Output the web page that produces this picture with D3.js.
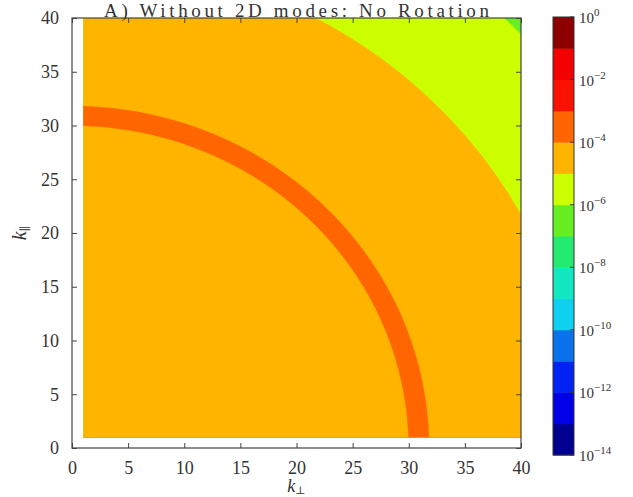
<!DOCTYPE html>
<html>
<head>
<meta charset="utf-8">
<script src="https://cdn.jsdelivr.net/npm/d3@7"></script>
<style>
  body { margin: 0; background: #fff; }
  svg { display: block; }
  text { font-family: "Liberation Serif", "DejaVu Serif", serif; fill: #333; }
</style>
</head>
<body>
<svg class="chart" width="633" height="497"></svg>
<script>
const title = 'A) Without 2D modes: No Rotation'

// grid of wavenumbers (both directions run 1..40)
const kPerp = d3.range(1, 41)
const kPar = d3.range(1, 41)

// radial profile: log10 E at shell radius k
const profileK = [0, 29, 31, 32.6, 44.5, 46.5, 54.5, 56.5, 60]
const profileLog10E = [-4.5, -4.5, -3.5, -4.5, -4.5, -5.5, -5.5, -6.5, -6.5]

// contour levels (log10) and the colour of each band
const levels = [-14, -13, -12, -11, -10, -9, -8, -7, -6, -5, -4, -3, -2, -1, 0]
const bandColors = ['#000090', '#0000e6', '#0022f2', '#0a72ea', '#10d0f2', '#12e8c0',
  '#24ea70', '#66ee22', '#ccff00', '#ffb400', '#ff6600', '#fa1200', '#f50000', '#8e0000']

const axisTicks = [0, 5, 10, 15, 20, 25, 30, 35, 40]
const colorbarTicks = [0, -2, -4, -6, -8, -10, -12, -14]

const svg = d3.select('.chart')

const x = d3.scaleLinear().domain([0, 40]).range([72, 521])
const y = d3.scaleLinear().domain([0, 40]).range([448, 18])
const cb = d3.scaleLinear().domain([-14, 0]).range([455, 17])

// build grid values, row 0 = smallest k_par
const profile = d3.scaleLinear().domain(profileK).range(profileLog10E).clamp(true)
const values = []
kPar.forEach(ky => {
  kPerp.forEach(kx => {
    values.push(profile(Math.hypot(kx, ky)))
  })
})

const contours = d3.contours()
  .size([kPerp.length, kPar.length])
  .thresholds(levels.slice(0, -1))(values)

const proj = d3.geoTransform({
  point: function (px, py) {
    this.stream.point(x(kPerp[0] + px - 0.5), y(kPar[0] + py - 0.5))
  }
})
const path = d3.geoPath(proj)

svg.append('clipPath')
  .attr('id', 'clip')
  .append('rect')
  .attr('x', x(kPerp[0]))
  .attr('y', y(kPar[kPar.length - 1]))
  .attr('width', x(kPerp[kPerp.length - 1]) - x(kPerp[0]))
  .attr('height', y(kPar[0]) - y(kPar[kPar.length - 1]))

svg.append('g')
  .attr('clip-path', 'url(#clip)')
  .selectAll('path')
  .data(contours)
  .enter()
  .append('path')
  .attr('d', path)
  .attr('fill', d => bandColors[levels.indexOf(d.value)])
  .attr('fill-rule', 'evenodd')
  .attr('stroke', d => bandColors[levels.indexOf(d.value)])
  .attr('stroke-width', 0.5)

// axes, ticks pointing inward on all four sides
const tickLen = 5
const axes = [
  {axis: d3.axisBottom(x), t: 'translate(0,' + y(0) + ')', labels: true, pad: 8},
  {axis: d3.axisTop(x), t: 'translate(0,' + y(40) + ')', labels: false, pad: 0},
  {axis: d3.axisLeft(y), t: 'translate(' + x(0) + ',0)', labels: true, pad: 8},
  {axis: d3.axisRight(y), t: 'translate(' + x(40) + ',0)', labels: false, pad: 0}
]
axes.forEach(a => {
  a.axis.tickValues(axisTicks).tickSize(-tickLen).tickPadding(tickLen + a.pad)
  if (!a.labels) a.axis.tickFormat('')
  const g = svg.append('g').attr('transform', a.t).call(a.axis)
  g.select('.domain').remove()
  g.selectAll('line').attr('stroke', '#444')
  g.selectAll('text')
    .style('font-family', '"Liberation Serif", serif')
    .style('font-size', '18px')
    .attr('fill', '#333')
})

svg.append('rect')
  .attr('x', x(0))
  .attr('y', y(40))
  .attr('width', x(40) - x(0))
  .attr('height', y(0) - y(40))
  .attr('fill', 'none')
  .attr('stroke', '#444')
  .attr('stroke-width', 1.2)

// title and axis labels
svg.append('text')
  .attr('x', (x(0) + x(40)) / 2)
  .attr('y', 17)
  .attr('text-anchor', 'middle')
  .attr('textLength', 385)
  .attr('lengthAdjust', 'spacing')
  .style('font-size', '19px')
  .text(title)

const xl = svg.append('text')
  .attr('x', (x(0) + x(40)) / 2)
  .attr('y', 492)
  .attr('text-anchor', 'middle')
  .style('font-size', '18px')
xl.append('tspan').style('font-style', 'italic').text('k')
xl.append('tspan').attr('dy', 2).style('font-size', '11px').text('⊥')

const yl = svg.append('text')
  .attr('transform', 'translate(26,' + (y(0) + y(40)) / 2 + ') rotate(-90)')
  .attr('text-anchor', 'middle')
  .style('font-size', '20px')
yl.append('tspan').style('font-style', 'italic').text('k')
yl.append('tspan').attr('dy', 3).style('font-size', '12px').text('∥')

// colorbar
const cbX = 553
const cbW = 21
const cg = svg.append('g')
cg.selectAll('rect')
  .data(bandColors)
  .enter()
  .append('rect')
  .attr('x', cbX)
  .attr('y', (d, i) => cb(levels[i + 1]))
  .attr('width', cbW)
  .attr('height', (d, i) => cb(levels[i]) - cb(levels[i + 1]) + 0.5)
  .attr('fill', d => d)

cg.append('rect')
  .attr('x', cbX)
  .attr('y', cb(0))
  .attr('width', cbW)
  .attr('height', cb(-14) - cb(0))
  .attr('fill', 'none')
  .attr('stroke', '#333')
  .attr('stroke-width', 1)

cg.selectAll('line.cbtick')
  .data(colorbarTicks)
  .enter()
  .append('line')
  .attr('class', 'cbtick')
  .attr('x1', cbX + cbW - 4)
  .attr('x2', cbX + cbW)
  .attr('y1', d => cb(d))
  .attr('y2', d => cb(d))
  .attr('stroke', '#333')

const cbLabels = cg.selectAll('text')
  .data(colorbarTicks)
  .enter()
  .append('text')
  .attr('x', cbX + cbW + 5)
  .attr('y', d => cb(d) + 6)
  .style('font-size', '15px')
cbLabels.append('tspan').text('10')
cbLabels.append('tspan')
  .attr('dy', -7)
  .style('font-size', '11px')
  .text(d => d === 0 ? '0' : '\u2212' + Math.abs(d))
</script>
</body>
</html>
